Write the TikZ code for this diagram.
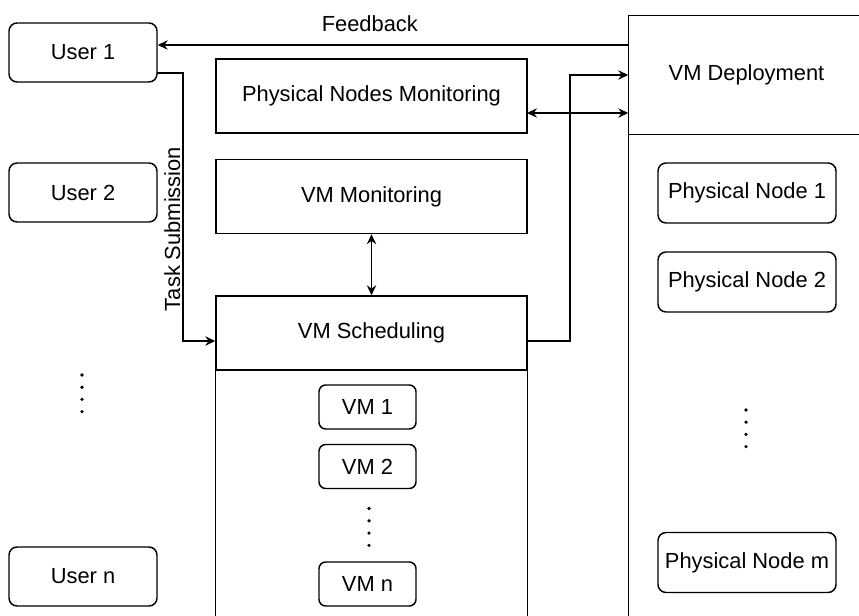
\documentclass[tikz,border=0pt]{standalone}
\usepackage{fontspec}
\setmainfont{Liberation Sans}
\usetikzlibrary{arrows.meta}

\tikzset{every picture/.style={line width=1.1pt}}
\tikzset{
  userbox/.style={draw, rounded corners=6pt, minimum width=111pt, minimum height=44.25pt, inner sep=0.75pt},
  modbox/.style={draw, minimum width=233.25pt, minimum height=55.5pt, inner sep=0.75pt},
  vmbox/.style={draw, rounded corners=5pt, minimum width=72.75pt, minimum height=33pt, inner sep=0.75pt},
  pnbox/.style={draw, rounded corners=6pt, minimum width=133.5pt, minimum height=45pt, inner sep=0.75pt},
  arr/.style={-{Stealth[length=7.5pt,width=7pt,inset=2.5pt]}},
  dblarr/.style={{Stealth[length=7.5pt,width=7pt,inset=2.5pt]}-{Stealth[length=7.5pt,width=7pt,inset=2.5pt]}}
}

\begin{document}
\begin{tikzpicture}[x=0.75pt,y=0.75pt,yscale=-1,xscale=1,font=\fontsize{16.4pt}{19.7pt}\selectfont]
\useasboundingbox (0,0) rectangle (859,616);
\clip (0,0) rectangle (859,616);

% Users
\node [userbox] (user1) at (83,52.5) {User 1};
\node [userbox] (user2) at (83,192.5) {User 2};
\node [userbox] (usern) at (83,576.5) {User n};

% Monitoring and scheduling
\node [modbox] (physmon) at (371.5,96) {Physical Nodes Monitoring};
\node [modbox] (vmmon) at (371.5,196.5) {VM Monitoring};
\node [modbox] (vmsched) at (371.5,333) {VM Scheduling};
\draw (vmsched.south west) -- ++(0,252);
\draw (vmsched.south east) -- ++(0,252);

% VMs
\node [vmbox] (vm1) at (367.5,407) {VM 1};
\node [vmbox] (vm2) at (367.5,466.5) {VM 2};
\node [vmbox] (vmn) at (367.5,584) {VM n};

% Deployment
\node [minimum width=176.25pt, minimum height=88.5pt, inner sep=0pt] (vmdep) at (746.5,75) {VM Deployment};
\draw (vmdep.south east) -- (vmdep.south west) -- (vmdep.north west) -- (vmdep.north east);
\draw (vmdep.south west) -- ++(0,490);

% Physical nodes
\node [pnbox] (pnode1) at (747,193) {Physical Node 1};
\node [pnbox] (pnode2) at (747,282) {Physical Node 2};
\node [pnbox] (pnodem) at (747,562.5) {Physical Node m};

% Dots
\foreach \k in {0,...,3} {
  \fill (82,375+12.2*\k) circle (1.8);
  \fill (369,508.5+12.3*\k) circle (1.8);
  \fill (746,410+12.2*\k) circle (1.8);
}

% Feedback
\coordinate (fbout) at (629,45);
\draw [arr] (fbout) -- (fbout -| user1.east) node [pos=0.55, above=9.5pt, inner sep=0pt] (fblabel) {Feedback};

% Task Submission
\coordinate (tsout) at (157,73);
\coordinate (tsbend) at (183,341);
\draw [arr] (tsout) -| (tsbend) -- (tsbend -| vmsched.west);
\node [rotate=90, anchor=south, inner sep=1.5pt] (tslabel) at (183,229) {Task Submission};

% Scheduling to deployment
\coordinate (sdout) at (527,341);
\coordinate (sdbend) at (570,341);
\draw [arr] (sdout) -- (sdbend) |- (vmdep.west);

% Monitoring links
\coordinate (pmout) at (527,113);
\draw [dblarr] (pmout) -- (pmout -| vmdep.west);
\draw [dblarr] (vmmon.south) -- (vmsched.north);

\end{tikzpicture}
\end{document}
